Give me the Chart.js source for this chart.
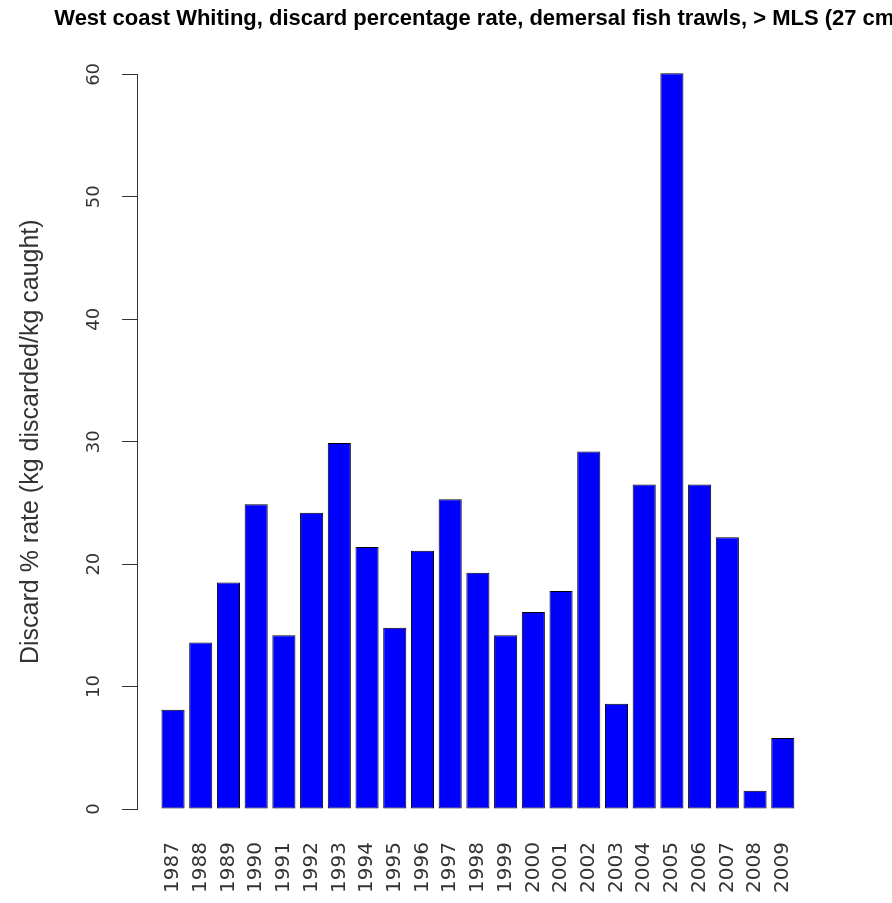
<!DOCTYPE html>
<html>
<head>
<meta charset="utf-8">
<script src="https://cdn.jsdelivr.net/npm/chart.js@4"></script>
<style>
  html, body { margin: 0; padding: 0; background: #fff; overflow: hidden; }
  #wrap { width: 956px; height: 903px; position: relative; }
</style>
</head>
<body>
<div id="wrap"><canvas id="myChart"></canvas></div>
<script>
const years = ['1987', '1988', '1989', '1990', '1991', '1992', '1993', '1994', '1995', '1996', '1997', '1998',
    '1999', '2000', '2001', '2002', '2003', '2004', '2005', '2006', '2007', '2008', '2009'];
const discardRate = [8.1, 13.6, 18.5, 24.9, 14.2, 24.2, 29.9, 21.4, 14.8, 21.1, 25.3, 19.3,
    14.2, 16.1, 17.8, 29.2, 8.6, 26.5, 60.1, 26.5, 22.2, 1.5, 5.8];
const yTicks = [0, 10, 20, 30, 40, 50, 60];

const titleText = 'West coast Whiting, discard percentage rate, demersal fish trawls, > MLS (27 cm)';
const yTitle = 'Discard % rate (kg discarded/kg caught)';

// canvas is wider than the window so the title runs off the right edge like the original
const ctx = document.getElementById('myChart').getContext('2d');
const myChart = new Chart(ctx, {
    type: 'bar',
    data: {
        datasets: [{
            data: discardRate.map((v, i) => ({ x: i, y: v })),
            backgroundColor: '#0000ff',
            borderColor: '#000000',
            borderWidth: 1,
            borderSkipped: false,
            barPercentage: 1 / 1.2,
            categoryPercentage: 1,
            clip: false
        }]
    },
    options: {
        responsive: true,
        maintainAspectRatio: false,
        animation: false,
        layout: { padding: 0 },
        plugins: {
            legend: { display: false },
            tooltip: { enabled: false },
            title: {
                display: true,
                text: titleText,
                color: '#000',
                font: { family: 'Liberation Sans, Arial, sans-serif', size: 22, weight: 'bold' },
                padding: { top: 6, bottom: 42 }
            }
        },
        scales: {
            x: {
                type: 'linear',
                offset: false,
                min: -1.3,
                max: 28.25,
                afterBuildTicks: (scale) => {
                    scale.ticks = years.map((y, i) => ({ value: i }));
                },
                afterFit: (scale) => { scale.height = 94; },
                grid: { display: false, drawTicks: false },
                border: { display: false },
                ticks: {
                    autoSkip: false,
                    minRotation: 90,
                    maxRotation: 90,
                    padding: 33,
                    color: '#333',
                    font: { family: 'DejaVu Sans, sans-serif', size: 20 },
                    callback: (value) => years[value]
                }
            },
            y: {
                min: 0,
                max: 60,
                afterBuildTicks: (scale) => {
                    scale.ticks = yTicks.map(v => ({ value: v }));
                },
                afterFit: (scale) => { scale.width = 137; },
                grid: { drawOnChartArea: false, drawTicks: true, tickLength: 15, color: '#333', lineWidth: 1 },
                border: { display: true, color: '#333', width: 1 },
                ticks: {
                    minRotation: 90,
                    maxRotation: 90,
                    crossAlign: 'center',
                    padding: 16,
                    color: '#333',
                    font: { family: 'DejaVu Sans, sans-serif', size: 18 }
                },
                title: {
                    display: true,
                    text: yTitle,
                    color: '#333',
                    font: { family: 'Liberation Sans, Arial, sans-serif', size: 25 },
                    padding: { top: 16, bottom: 0 }
                }
            }
        }
    }
});
</script>
</body>
</html>
